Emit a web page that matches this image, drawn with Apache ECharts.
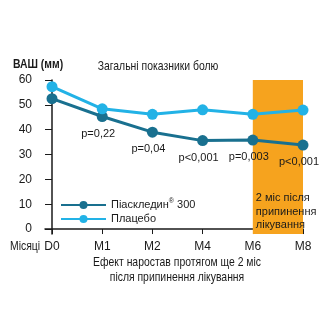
<!DOCTYPE html>
<html><head><meta charset="utf-8">
<script src="https://cdn.jsdelivr.net/npm/echarts@6/dist/echarts.min.js"></script>
<style>html,body{margin:0;padding:0;background:#fff}#c{width:330px;height:330px}</style>
</head><body><div id="c"></div>
<script>
var categories = ['D0','M1','M2','M4','M6','M8'];
var piascledine = [52.5, 45.3, 39.0, 35.6, 35.8, 33.8];
var placebo = [57.3, 48.4, 46.2, 48.0, 46.2, 47.9];
var pValues = ['', 'p=0,22', 'p=0,04', 'p<0,001', 'p=0,003', 'p<0,001'];
var yTicks = [0,10,20,30,40,50,60];
var shadeRange = [4, 5];
var shadeText = '2 міс після\nприпинення\nлікування';

var F = '"Liberation Sans Narrow", "Liberation Sans", Arial, sans-serif';
var dark = '#19708F', light = '#22B2E6', orange = '#F6A31E', ink = '#1a1a1a';
var SX = 0.8;

var chart = echarts.init(document.getElementById('c'));
chart.setOption({
  animation: false,
  backgroundColor: '#fff',
  graphic: [
    {type: 'text', x: 158, y: 60, scaleX: SX, style: {text: 'Загальні показники болю', textAlign: 'center', font: '13px ' + F, fill: ink}},
    {type: 'text', x: 13, y: 58, scaleX: SX, style: {text: 'ВАШ (мм)', font: 'bold 13px ' + F, fill: ink}},
    {type: 'text', x: 10, y: 240, scaleX: SX, style: {text: 'Місяці', font: '13px ' + F, fill: ink}},
    {type: 'text', x: 177, y: 255, scaleX: SX, style: {text: 'Ефект наростав протягом ще 2 міс\nпісля припинення лікування', textAlign: 'center', font: '13px ' + F, lineHeight: 15, fill: ink}}
  ],
  legend: {
    orient: 'vertical', left: 55, top: 193, itemWidth: 45, itemHeight: 10, itemGap: 0,
    textStyle: {fontFamily: F, fontSize: 11, color: ink, lineHeight: 14,
      rich: {sup: {fontSize: 7, verticalAlign: 'top', fontFamily: F, color: ink, padding: [0,0,5,0]}}},
    formatter: function (n) { return n === 'Піаскледин 300' ? 'Піаскледин{sup|®} 300' : n; },
    data: [{name: 'Піаскледин 300'}, {name: 'Плацебо'}]
  },
  grid: {left: 45, right: 27, top: 80, bottom: 96},
  xAxis: {
    type: 'value', min: -0.14, max: 5,
    axisLine: {lineStyle: {color: ink, width: 1.5}},
    axisTick: {customValues: [0,1,2,3,4,5], length: 5, lineStyle: {color: ink}},
    axisLabel: {customValues: [0,1,2,3,4,5], fontFamily: F, fontSize: 12, color: ink, margin: 7,
      formatter: function (v) { return categories[Math.round(v)]; }},
    splitLine: {show: false}
  },
  yAxis: {
    type: 'value', min: -2, max: 60,
    axisLine: {show: true, lineStyle: {color: ink, width: 1.5}},
    axisTick: {customValues: yTicks, length: 7, lineStyle: {color: ink}},
    axisLabel: {customValues: yTicks, fontFamily: F, fontSize: 12, color: ink, margin: 13},
    splitLine: {show: false}
  },
  series: [
    {
      name: 'Піаскледин 300', type: 'line', z: 3,
      data: piascledine.map(function (v, i) {
        return {value: [i, v], label: {show: !!pValues[i], formatter: pValues[i]}};
      }),
      symbol: 'circle', symbolSize: 11,
      itemStyle: {color: dark}, lineStyle: {color: dark, width: 3},
      label: {position: 'bottom', distance: 6, offset: [-4, 0], fontFamily: F, fontSize: 11, color: ink},
      markArea: {
        silent: true,
        itemStyle: {color: orange},
        label: {show: true, position: 'insideBottomLeft', offset: [-2, 3], formatter: shadeText,
          fontFamily: F, fontSize: 11, lineHeight: 13.5, color: ink},
        data: [[{xAxis: shadeRange[0], yAxis: -2}, {xAxis: shadeRange[1], yAxis: 60}]]
      }
    },
    {
      name: 'Плацебо', type: 'line', z: 3,
      data: placebo.map(function (v, i) { return [i, v]; }),
      symbol: 'circle', symbolSize: 11,
      itemStyle: {color: light}, lineStyle: {color: light, width: 3}
    }
  ]
});
</script></body></html>
